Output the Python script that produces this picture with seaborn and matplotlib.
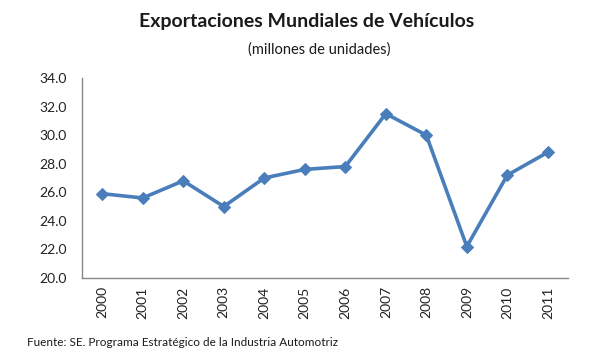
import matplotlib
matplotlib.use("Agg")
import matplotlib.pyplot as plt
import seaborn as sns
import pandas as pd

# values (millones de unidades)
years = [2000, 2001, 2002, 2003, 2004, 2005, 2006, 2007, 2008, 2009, 2010, 2011]
exports = [25.9, 25.6, 26.8, 25.0, 27.0, 27.6, 27.8, 31.5, 30.0, 22.2, 27.2, 28.8]
y_ticks = [20, 22, 24, 26, 28, 30, 32, 34]

title = "Exportaciones Mundiales de Vehículos"
subtitle = "(millones de unidades)"
source = "Fuente: SE. Programa Estratégico de la Industria Automotriz"

sns.set_style("white")
plt.rcParams['font.family'] = ['Lato', 'DejaVu Sans']

df = pd.DataFrame({"year": years, "value": exports})

fig = plt.figure(figsize=(6.05, 3.61), dpi=100)
ax = fig.add_axes([0.1355, 0.23, 0.8035, 0.554])

sns.lineplot(data=df, x="year", y="value", ax=ax, color="#4A7EBB",
             linewidth=2.6, marker="D", markersize=6.5,
             markeredgecolor="#4A7EBB")

ax.set_xlim(years[0] - 0.5, years[-1] + 0.5)
ax.set_ylim(20, 34)
ax.set_yticks(y_ticks)
ax.set_yticklabels([f"{v:.1f}" for v in y_ticks], fontsize=10, color="#222222")
ax.set_xticks(years)
ax.set_xticklabels([str(y) for y in years], rotation=90, fontsize=10,
                   color="#222222")
ax.set_xticks([y - 0.5 for y in years] + [years[-1] + 0.5], minor=True)
ax.tick_params(axis="x", which="major", length=0, pad=6)
ax.tick_params(axis="x", which="minor", length=4, width=1, color="#888888",
               direction="out")
ax.tick_params(axis="y", length=4, width=1, color="#888888", direction="inout",
               pad=9)
ax.set_xlabel("")
ax.set_ylabel("")

for side in ["top", "right"]:
    ax.spines[side].set_visible(False)
for side in ["left", "bottom"]:
    ax.spines[side].set_color("#888888")
    ax.spines[side].set_linewidth(1)

fig.text(0.507, 0.94, title, ha="center", va="center", fontsize=14,
         fontweight="bold", color="#1a1a1a")
fig.text(0.527, 0.863, subtitle, ha="center", va="center", fontsize=10.5,
         color="#1a1a1a")
fig.text(0.045, 0.05, source, ha="left", va="center", fontsize=8.5,
         color="#1a1a1a")

fig.savefig("out.png", dpi=100)
